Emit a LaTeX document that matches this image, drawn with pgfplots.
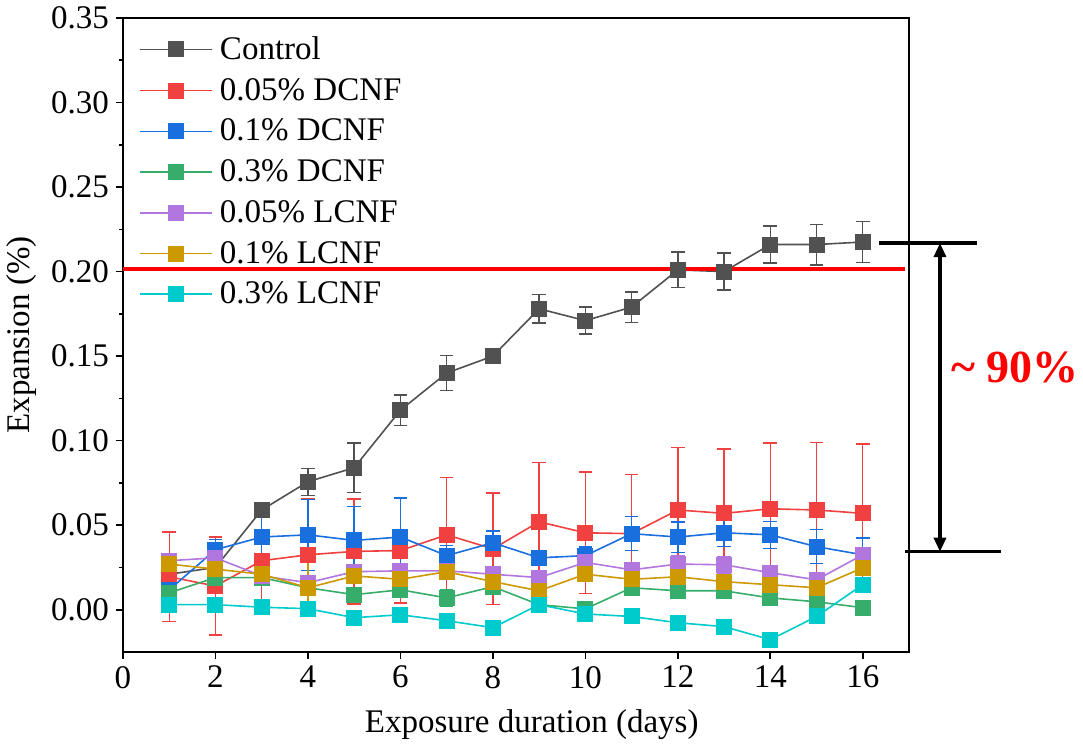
\documentclass[border=0pt]{standalone}
\usepackage{fontspec}
\setmainfont{Liberation Serif}
\usepackage{pgfplots}
\usepackage{pgfplotstable}
\pgfplotsset{compat=1.18}
\usetikzlibrary{arrows.meta}

\definecolor{cctrl}{HTML}{515151}
\definecolor{cred}{HTML}{F14040}
\definecolor{cblue}{HTML}{1A6FDF}
\definecolor{cgreen}{HTML}{37AD6B}
\definecolor{cpurple}{HTML}{B177DE}
\definecolor{cgold}{HTML}{CC9900}
\definecolor{ccyan}{HTML}{00CBCC}

\pgfplotstableread{
x y e
1 0.021 0.002
2 0.025 0.003
3 0.059 0.003
4 0.0757 0.008
5 0.084 0.0145
6 0.118 0.009
7 0.140 0.0105
8 0.150 0.002
9 0.178 0.0085
10 0.171 0.008
11 0.179 0.009
12 0.201 0.0105
13 0.200 0.011
14 0.216 0.011
15 0.216 0.012
16 0.2175 0.012
}\ctrl

\pgfplotstableread{
x y e
1 0.0195 0.0265
2 0.0140 0.029
3 0.029 0.030
4 0.0325 0.033
5 0.0345 0.031
6 0.035 0.031
7 0.0443 0.034
8 0.036 0.033
9 0.052 0.035
10 0.0455 0.036
11 0.045 0.035
12 0.059 0.037
13 0.057 0.038
14 0.0597 0.039
15 0.059 0.040
16 0.057 0.041
}\dA

\pgfplotstableread{
x y e
1 0.0118 0.004
2 0.0355 0.006
3 0.043 0.014
4 0.0443 0.021
5 0.041 0.020
6 0.043 0.023
7 0.032 0.006
8 0.0396 0.007
9 0.0307 0.004
10 0.032 0.005
11 0.045 0.010
12 0.043 0.009
13 0.0455 0.008
14 0.0443 0.008
15 0.0373 0.010
16 0.0325 0.010
}\dB

\pgfplotstableread{
x y e
1 0.010 0.003
2 0.019 0.004
3 0.019 0.003
4 0.013 0.004
5 0.0089 0.003
6 0.0118 0.004
7 0.007 0.005
8 0.0136 0.004
9 0.003 0.003
10 0.0005 0.003
11 0.013 0.004
12 0.0112 0.003
13 0.0112 0.003
14 0.007 0.003
15 0.0047 0.003
16 0.0012 0.002
}\dC

\pgfplotstableread{
x y e
1 0.029 0.004
2 0.0307 0.004
3 0.020 0.004
4 0.016 0.019
5 0.0225 0.004
6 0.023 0.004
7 0.023 0.004
8 0.021 0.004
9 0.019 0.004
10 0.028 0.004
11 0.0236 0.004
12 0.027 0.005
13 0.0266 0.005
14 0.0219 0.004
15 0.0177 0.004
16 0.0325 0.004
}\lA

\pgfplotstableread{
x y e
1 0.027 0.004
2 0.024 0.004
3 0.021 0.004
4 0.013 0.015
5 0.020 0.003
6 0.018 0.003
7 0.0225 0.003
8 0.0166 0.003
9 0.0112 0.003
10 0.021 0.003
11 0.018 0.003
12 0.0195 0.003
13 0.0166 0.003
14 0.0148 0.003
15 0.013 0.003
16 0.0248 0.003
}\lB

\pgfplotstableread{
x y e
1 0.003 0.003
2 0.003 0.003
3 0.0015 0.002
4 0.0006 0.003
5 -0.0047 0.004
6 -0.003 0.003
7 -0.0065 0.002
8 -0.0106 0.002
9 0.003 0.002
10 -0.0025 0.002
11 -0.004 0.004
12 -0.0077 0.002
13 -0.010 0.002
14 -0.0177 0.002
15 -0.004 0.002
16 0.0148 0.002
}\lC

\pgfplotsset{
  ser/.style={color=#1, mark=square*, mark size=3.6pt, line width=0.8pt,
    mark options={solid, fill=#1},
    error bars/.cd, y dir=both, y explicit,
    error bar style={line width=0.7pt, #1},
    error mark options={rotate=90, mark size=3.4pt, line width=0.7pt, #1}},
}

\begin{document}
\begin{tikzpicture}
\begin{axis}[
  scale only axis,
  width=393pt, height=317pt,
  xmin=0, xmax=17, ymin=-0.025, ymax=0.35,
  xtick={0,2,...,16},
  ytick={0,0.05,...,0.35},
  minor y tick num=1,
  axis line style={line width=0.9pt},
  every tick/.style={black, line width=0.8pt},
  major tick length=3.5pt, minor tick length=2pt,
  tick align=outside,
  xtick pos=bottom, ytick pos=left,
  clip=false,
  font=\fontsize{16.5}{19}\selectfont,
  tick label style={font=\fontsize{16.5}{19}\selectfont},
  /pgf/number format/assume math mode=true,
  yticklabel style={/pgf/number format/.cd, fixed, fixed zerofill, precision=2},
  xlabel={Exposure duration (days)},
  ylabel={Expansion (\%)},
  xlabel style={at={([yshift=-36.5pt]axis description cs:0.52,0)}, anchor=center},
  ylabel style={at={([xshift=-50.5pt]axis description cs:0,0.5)}, anchor=center, rotate=0},
  legend cell align=left,
  legend style={draw=none, fill=none, at={([xshift=8pt,yshift=-7pt]axis description cs:0,1)},
    anchor=north west, inner sep=0pt, row sep=3.9pt, column sep=1.5pt,
    font=\fontsize{16.5}{19}\selectfont},
  legend image code/.code={\draw[mark repeat=2, mark phase=2] plot coordinates {(0pt,0pt)(18pt,0pt)(36pt,0pt)};},
]
\addplot[ser=cctrl] table[x=x,y=y,y error=e] {\ctrl};
\addlegendentry{Control}
\addplot[ser=cred] table[x=x,y=y,y error=e] {\dA};
\addlegendentry{0.05\% DCNF}
\addplot[ser=cblue] table[x=x,y=y,y error=e] {\dB};
\addlegendentry{0.1\% DCNF}
\addplot[ser=cgreen] table[x=x,y=y,y error=e] {\dC};
\addlegendentry{0.3\% DCNF}
\addplot[ser=cpurple] table[x=x,y=y,y error=e] {\lA};
\addlegendentry{0.05\% LCNF}
\addplot[ser=cgold] table[x=x,y=y,y error=e] {\lB};
\addlegendentry{0.1\% LCNF}
\addplot[ser=ccyan] table[x=x,y=y,y error=e] {\lC};
\addlegendentry{0.3\% LCNF}

\draw[red, line width=2pt] (axis cs:0,0.2015) -- (axis cs:16.92,0.2015);
\draw[black, line width=1.6pt] (axis cs:16.36,0.2169) -- (axis cs:18.47,0.2169);
\draw[black, line width=1.6pt] (axis cs:16.92,0.0343) -- (axis cs:19.0,0.0343);
\draw[black, line width=1.6pt, {Triangle[length=7pt,width=6pt]}-{Triangle[length=7pt,width=6pt]}] (axis cs:17.67,0.2169) -- (axis cs:17.67,0.0343);
\node[red, font=\bfseries\fontsize{23}{26}\selectfont] at (axis cs:19.29,0.143) {\textasciitilde\ 90\%};
\coordinate (LL) at (rel axis cs:0,0);
\end{axis}
\pgfresetboundingbox
\path[use as bounding box] ([shift={(-61.5pt,-49pt)}]LL) rectangle ++(541.5pt,375pt);
\end{tikzpicture}
\end{document}
